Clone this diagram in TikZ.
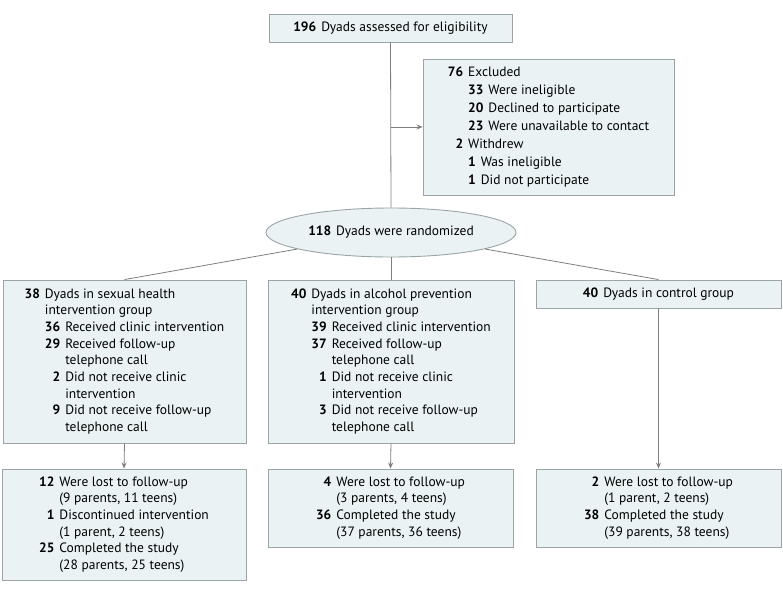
\documentclass[tikz,border=0pt]{standalone}
\usepackage{fontspec}
\setmainfont{PT Sans}
\usepackage{xcolor}
\usetikzlibrary{arrows.meta,shapes.geometric}
\definecolor{boxfill}{HTML}{EAF2F4}
\definecolor{boxline}{HTML}{9BA4A6}
\definecolor{linkgray}{HTML}{7F7F7F}
\newcommand{\nb}[1]{\textbf{#1}}

\begin{document}
\begin{tikzpicture}[x=1pt,y=-1pt,
  flow/.style={draw=boxline, fill=boxfill, line width=0.9pt, inner sep=0pt,
    font=\fontsize{13.5}{16.7}\selectfont},
  link/.style={draw=linkgray, line width=0.8pt},
  arrowlink/.style={link, -{Stealth[length=6pt,width=5pt]}}]
		\useasboundingbox (0,0) rectangle (783,594);
		% enrollment
		\node[flow, minimum width=243pt, minimum height=28pt] (elig) at (390.5,28)
			{\nb{196}\hspace{5pt}Dyads assessed for eligibility};
		\node[flow, minimum width=251pt, minimum height=136pt,
			font=\fontsize{13.5}{18}\selectfont] (excl) at (548.5,127)
			{\begin{tabular}{@{}r@{\hspace{5pt}}r@{\hspace{5pt}}l@{}}
			\nb{76} & \multicolumn{2}{@{}l@{}}{Excluded}\\
			& \nb{33} & Were ineligible\\
			& \nb{20} & Declined to participate\\
			& \nb{23} & Were unavailable to contact\\
			\nb{2} & \multicolumn{2}{@{}l@{}}{Withdrew}\\
			& \multicolumn{2}{@{}l@{}}{\nb{1}\hspace{5pt}Was ineligible}\\
			& \multicolumn{2}{@{}l@{}}{\nb{1}\hspace{5pt}Did not participate}
			\end{tabular}};
		\node[flow, ellipse, minimum width=250pt, minimum height=49pt] (rand) at (391,232.5)
			{\nb{118}\hspace{5pt}Dyads were randomized};
		% allocation
		\node[flow, minimum width=243pt, minimum height=163pt] (grpA) at (124.5,361.5)
			{\begin{tabular}{@{}r@{\hspace{5pt}}r@{\hspace{5pt}}l@{}}
			\nb{38} & \multicolumn{2}{@{}l@{}}{Dyads in sexual health}\\
			& \multicolumn{2}{@{}l@{}}{intervention group}\\
			& \nb{36} & Received clinic intervention\\
			& \nb{29} & Received follow-up\\
			& & telephone call\\
			& \nb{2} & Did not receive clinic\\
			& & intervention\\
			& \nb{9} & Did not receive follow-up\\
			& & telephone call
			\end{tabular}};
		\node[flow, minimum width=246pt, minimum height=163pt] (grpB) at (391,361.5)
			{\begin{tabular}{@{}r@{\hspace{5pt}}r@{\hspace{5pt}}l@{}}
			\nb{40} & \multicolumn{2}{@{}l@{}}{Dyads in alcohol prevention}\\
			& \multicolumn{2}{@{}l@{}}{intervention group}\\
			& \nb{39} & Received clinic intervention\\
			& \nb{37} & Received follow-up\\
			& & telephone call\\
			& \nb{1} & Did not receive clinic\\
			& & intervention\\
			& \nb{3} & Did not receive follow-up\\
			& & telephone call
			\end{tabular}};
		\node[flow, minimum width=245pt, minimum height=28pt] (grpC) at (658.5,294)
			{\nb{40}\hspace{5pt}Dyads in control group};
		% follow-up
		\node[flow, minimum width=244pt, minimum height=111pt] (outA) at (124,524.5)
			{\begin{tabular}{@{}r@{\hspace{5pt}}l@{}}
			\nb{12} & Were lost to follow-up\\
			& (9 parents, 11 teens)\\
			\nb{1} & Discontinued intervention\\
			& (1 parent, 2 teens)\\
			\nb{25} & Completed the study\\
			& (28 parents, 25 teens)
			\end{tabular}};
		\node[flow, minimum width=245pt, minimum height=78pt] (outB) at (390.5,508)
			{\begin{tabular}{@{}r@{\hspace{5pt}}l@{}}
			\nb{4} & Were lost to follow-up\\
			& (3 parents, 4 teens)\\
			\nb{36} & Completed the study\\
			& (37 parents, 36 teens)
			\end{tabular}};
		\node[flow, minimum width=245pt, minimum height=78pt] (outC) at (658.5,508)
			{\begin{tabular}{@{}r@{\hspace{5pt}}l@{}}
			\nb{2} & Were lost to follow-up\\
			& (1 parent, 2 teens)\\
			\nb{38} & Completed the study\\
			& (39 parents, 38 teens)
			\end{tabular}};
		% connectors
		\coordinate (split) at (391,127);
		\draw[link] (elig.south) -- (rand.north);
		\draw[arrowlink] (split) -- (excl.west);
		\draw[link] (rand) -- (grpA.north);
		\draw[link] (rand.south) -- (grpB.north);
		\draw[link] (rand) -- (grpC.north);
		\draw[arrowlink] (grpA.south) -- (outA.north);
		\draw[arrowlink] (grpB.south) -- (outB.north);
		\draw[arrowlink] (grpC.south) -- (outC.north);
\end{tikzpicture}
\end{document}
